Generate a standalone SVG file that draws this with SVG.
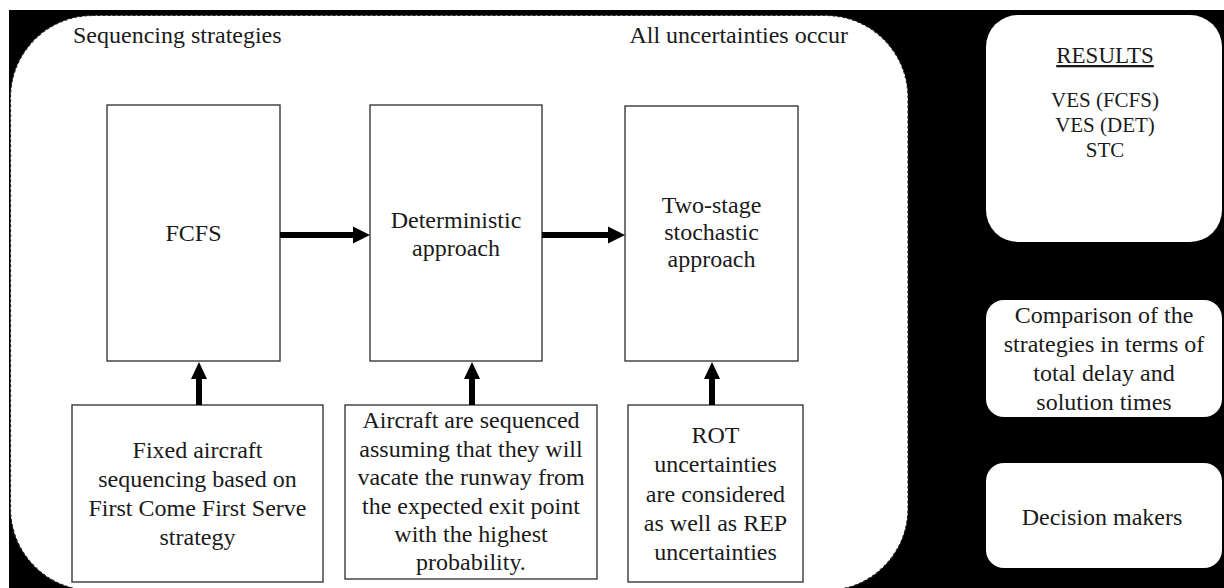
<svg xmlns="http://www.w3.org/2000/svg" width="1224" height="588" viewBox="0 0 1224 588">
<style>
text{font-family:"Liberation Serif","Times New Roman",serif;font-size:24px;fill:#1a1a1a}
.c{text-anchor:middle}
.box{fill:#fff;stroke:#3a3a3a;stroke-width:1.4}
.rbox{fill:#fff;stroke:none}
.shaft{stroke:#000;stroke-width:6;fill:none}
.head{fill:#000}
</style>
<rect x="0" y="0" width="1224" height="588" fill="#fff"/>
<rect x="9" y="10" width="1215" height="578" fill="#000"/>
<g id="container">
<rect x="10.5" y="15.5" width="897.5" height="575" rx="82" ry="82" fill="#fff" stroke="#222" stroke-width="1.2" stroke-dasharray="3 2"/>
<text x="73" y="43">Sequencing strategies</text>
<text x="848" y="43" text-anchor="end">All uncertainties occur</text>
</g>
<g id="fcfs">
<rect class="box" x="107" y="105" width="173" height="256"/>
<text class="c" x="193.5" y="241">FCFS</text>
</g>
<g id="deterministic">
<rect class="box" x="370" y="105" width="172" height="256"/>
<text class="c" x="456" y="227.5">Deterministic</text>
<text class="c" x="456" y="255.5">approach</text>
</g>
<g id="stochastic">
<rect class="box" x="625" y="106" width="173" height="255"/>
<text class="c" x="711.5" y="213">Two-stage</text>
<text class="c" x="711.5" y="240">stochastic</text>
<text class="c" x="711.5" y="267">approach</text>
</g>
<g id="fcfs-desc">
<rect class="box" x="72" y="405" width="251" height="177"/>
<text class="c" x="197.5" y="458">Fixed aircraft</text>
<text class="c" x="197.5" y="487">sequencing based on</text>
<text class="c" x="197.5" y="516">First Come First Serve</text>
<text class="c" x="197.5" y="545">strategy</text>
</g>
<g id="det-desc">
<rect class="box" x="345" y="405" width="252" height="174"/>
<text class="c" x="471" y="428">Aircraft are sequenced</text>
<text class="c" x="471" y="456.5">assuming that they will</text>
<text class="c" x="471" y="485">vacate the runway from</text>
<text class="c" x="471" y="513.5">the expected exit point</text>
<text class="c" x="471" y="542">with the highest</text>
<text class="c" x="471" y="570">probability.</text>
</g>
<g id="sto-desc">
<rect class="box" x="628" y="405" width="175" height="177"/>
<text class="c" x="715.5" y="443">ROT</text>
<text class="c" x="715.5" y="472">uncertainties</text>
<text class="c" x="715.5" y="502">are considered</text>
<text class="c" x="715.5" y="531">as well as REP</text>
<text class="c" x="715.5" y="560">uncertainties</text>
</g>
<g id="results">
<rect class="rbox" x="986" y="15" width="236" height="227" rx="32" ry="32"/>
<text class="c" x="1105" y="63" style="font-size:23px" text-decoration="underline">RESULTS</text>
<text class="c" x="1105" y="107" style="font-size:21px">VES (FCFS)</text>
<text class="c" x="1105" y="132" style="font-size:21px">VES (DET)</text>
<text class="c" x="1105" y="157" style="font-size:21px">STC</text>
</g>
<g id="comparison">
<rect class="rbox" x="986" y="300" width="236" height="117" rx="18" ry="18"/>
<text class="c" x="1104" y="323">Comparison of the</text>
<text class="c" x="1104" y="352">strategies in terms of</text>
<text class="c" x="1104" y="381">total delay and</text>
<text class="c" x="1104" y="410">solution times</text>
</g>
<g id="decision">
<rect class="rbox" x="986" y="463" width="236" height="105" rx="18" ry="18"/>
<text class="c" x="1102" y="525">Decision makers</text>
</g>
<g id="connectors">
<line class="shaft" x1="280" y1="235" x2="354" y2="235"/>
<polygon class="head" points="353,226.5 370,235 353,243.5"/>
<line class="shaft" x1="542" y1="235" x2="609" y2="235"/>
<polygon class="head" points="608,226.5 625,235 608,243.5"/>
<line class="shaft" x1="199" y1="405" x2="199" y2="378"/>
<polygon class="head" points="191,379 199,362 207,379"/>
<line class="shaft" x1="472" y1="405" x2="472" y2="378"/>
<polygon class="head" points="464,379 472,362 480,379"/>
<line class="shaft" x1="712" y1="405" x2="712" y2="378"/>
<polygon class="head" points="704,379 712,362 720,379"/>
</g>
</svg>
